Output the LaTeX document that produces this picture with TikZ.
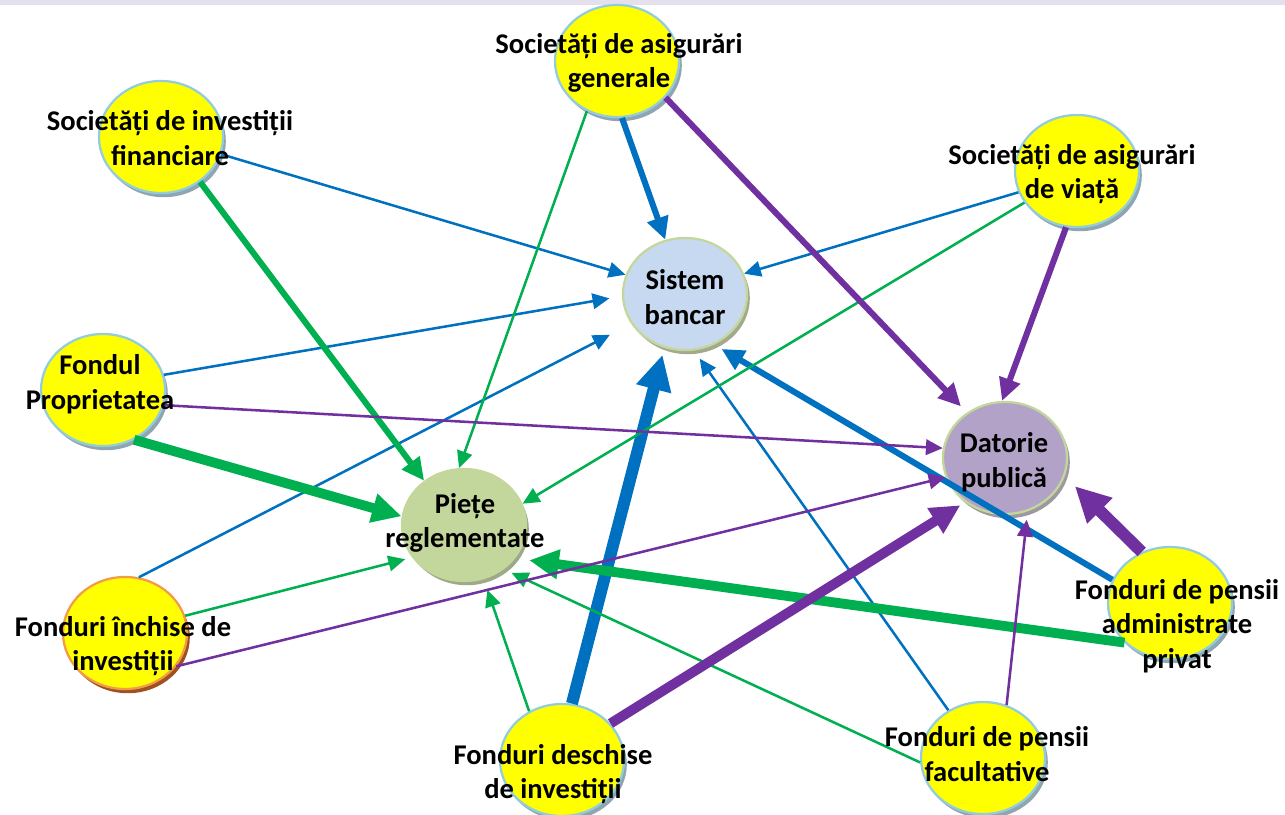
\documentclass[tikz,border=0pt]{standalone}
\usepackage{fontspec}
\setmainfont{Carlito}
\usetikzlibrary{shapes.geometric,arrows.meta,shadows}
\definecolor{lnblue}{HTML}{0070C0}
\definecolor{lngreen}{HTML}{00B050}
\definecolor{lnpurple}{HTML}{7030A0}
\definecolor{bubyellow}{HTML}{FFFF00}
\definecolor{bubrim}{HTML}{93CDDD}
\definecolor{bubshade}{HTML}{8FA6B2}
\definecolor{fiirim}{HTML}{F39A4B}
\definecolor{fiishade}{HTML}{A0521E}
\definecolor{sbfill}{HTML}{C6D9F1}
\definecolor{sbrim}{HTML}{C4D79B}
\definecolor{sbshade}{HTML}{A4A98E}
\definecolor{prfill}{HTML}{C3D69B}
\definecolor{prshade}{HTML}{9EAA87}
\definecolor{dpfill}{HTML}{B3A2C7}
\definecolor{dpshade}{HTML}{9C9AA0}
\definecolor{topband}{HTML}{E4E0EC}

\begin{document}
\begin{tikzpicture}[x=0.025cm,y=-0.025cm,
    shd/.style={drop shadow={shadow xshift=2pt,shadow yshift=-3pt,fill=#1,opacity=1}},
    bubbase/.style={ellipse,minimum width=3.1cm,minimum height=2.8cm,inner sep=0pt,line width=1.6pt},
    bub/.style={bubbase,fill=bubyellow,draw=bubrim,shd=bubshade},
    lbl/.style={align=center,inner sep=0pt,font=\fontsize{20.3}{24.6}\selectfont\bfseries},
    lnthin/.style={line width=1.8pt,-{Triangle[length=12pt,width=11pt]}},
    lnthick/.style={line width=4.3pt,-{Triangle[length=16pt,width=15pt]}},
    lnheavy/.style={line width=7pt,-{Triangle[length=21pt,width=20pt]}},
    lnmax/.style={line width=8.5pt,-{Triangle[length=25pt,width=24pt]}}]
    \useasboundingbox (0,0) rectangle (1285,815);
    \fill [topband] (0,0) rectangle (1285,5);
    \path ( 161, 137) node [bub] (sif) {};
    \path ( 617,  61) node [bub] (sag) {};
    \path (1077, 171) node [bub] (sav) {};
    \path ( 685, 294) node [bubbase,fill=sbfill,draw=sbrim,shd=sbshade] (sb) {};
    \path ( 103, 390) node [bub] (fp) {};
    \path ( 464, 525) node [bubbase,fill=prfill,draw=prfill,shd=prshade] (pr) {};
    \path (1005, 458) node [bubbase,fill=dpfill,draw=sbrim,shd=dpshade] (dp) {};
    \path ( 125, 633) node [bubbase,fill=bubyellow,draw=fiirim,shd=fiishade] (fii) {};
    \path ( 562, 760) node [bub] (fdi) {};
    \path ( 983, 758) node [bub] (fpf) {};
    \path (1170, 603) node [bub] (fpap) {};
    \draw [lnthin,lnblue] (sif.-16) -- (sb.162);
    \draw [lnthick,lnblue] (sag.-85) -- (sb.110);
    \draw [lnthin,lnblue] (sav.-160) -- (sb.19);
    \draw [lnthin,lnblue,shorten >=9pt] (fp.14) -- (sb.182);
    \draw [lnthin,lnblue,shorten >=17pt] (fii.76) -- (sb.-151);
    \draw [lnmax,lnblue,shorten >=5pt] (fdi.80) -- (sb.-111);
    \draw [lnthin,lnblue,shorten >=7pt] (fpf.126) -- (sb.-81);
    \draw [lnthick,lnblue,shorten >=6pt] (fpap.158) -- (sb.-60);
    \draw [lnthick,lngreen] (sif.-49) -- (pr.132);
    \draw [lnthin,lngreen] (sag.-121) -- (pr.95);
    \draw [lnthin,lngreen] (sav.-149) -- (pr.20);
    \draw [lnheavy,lngreen] (fp.-58) -- (pr.172);
    \draw [lnthin,lngreen,shorten >=5pt] (fii.16) -- (pr.-148);
    \draw [lnthin,lngreen,shorten >=8pt] (fdi.124) -- (pr.-70);
    \draw [lnthin,lngreen,shorten >=6pt] (fpf.184) -- (pr.-48);
    \draw [lnheavy,lngreen,shorten >=10pt] (fpap.-139) -- (pr.-33);
    \draw [lnthick,lnpurple,shorten >=6pt] (sag.-37) -- (dp.130);
    \draw [lnthick,lnpurple] (sav.-101) -- (dp.93);
    \draw [lnthin,lnpurple] (fp.-14) -- (dp.171);
    \draw [lnthin,lnpurple] (fii.-33) -- (dp.-162);
    \draw [lnheavy,lnpurple,shorten >=4pt] (fdi.37) -- (dp.-132);
    \draw [lnthin,lnpurple,shorten >=6pt] (fpf.66) -- (dp.-67);
    \draw [lnmax,lnpurple,shorten >=10pt] (fpap.119) -- (dp.-17);
    \path ( 170, 138) node [lbl] (sif-t) {Societăți de investiții\\financiare};
    \path ( 619,  63) node [lbl] (sag-t) {Societăți de asigurări\\generale};
    \path (1072, 174) node [lbl] (sav-t) {Societăți de asigurări\\de viață};
    \path ( 685, 297) node [lbl] (sb-t) {Sistem\\bancar};
    \path ( 100, 384) node [lbl] (fp-t) {Fondul\\Proprietatea};
    \path ( 465, 523) node [lbl] (pr-t) {Piețe\\reglementate};
    \path (1004, 462) node [lbl] (dp-t) {Datorie\\publică};
    \path ( 123, 646) node [lbl] (fii-t) {Fonduri închise de\\investiții};
    \path ( 553, 774) node [lbl] (fdi-t) {Fonduri deschise\\de investiții};
    \path ( 987, 754) node [lbl] (fpf-t) {Fonduri de pensii\\facultative};
    \path (1177, 626) node [lbl] (fpap-t) {Fonduri de pensii\\administrate\\privat};
\end{tikzpicture}
\end{document}
